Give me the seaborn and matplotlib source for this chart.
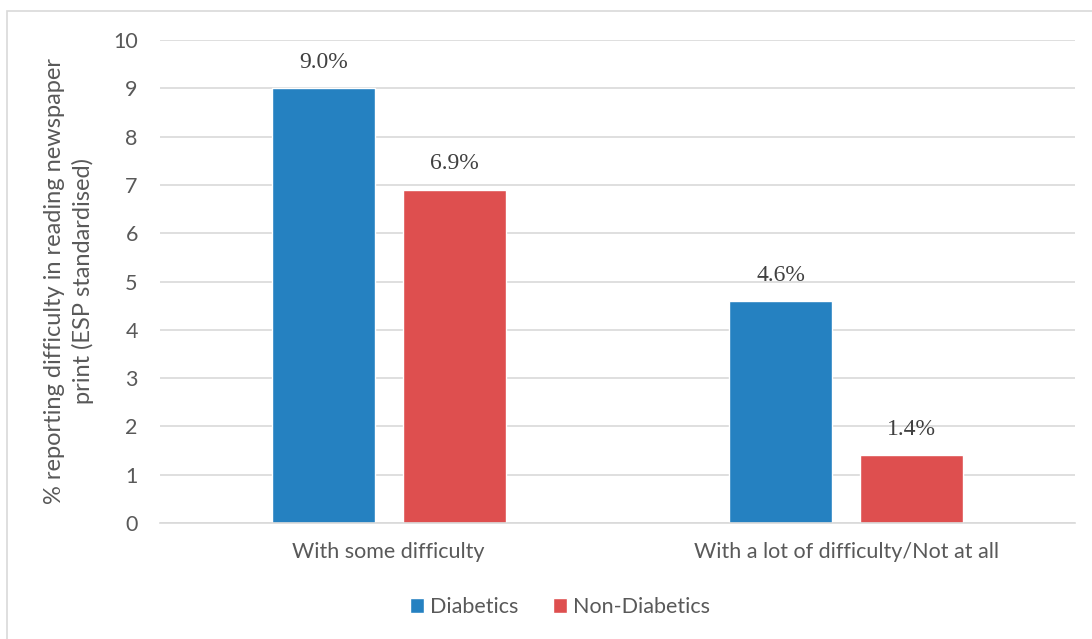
import pandas as pd
import matplotlib
matplotlib.use("Agg")
import matplotlib.pyplot as plt
import seaborn as sns
from matplotlib.patches import Rectangle, Patch

categories = ["With some difficulty", "With a lot of difficulty/Not at all"]
groups = ["Diabetics", "Non-Diabetics"]
diabetics = [9.0, 4.6]
non_diabetics = [6.9, 1.4]
colors = ["#2581C1", "#DE4F4F"]

df = pd.DataFrame({
    "category": categories * 2,
    "group": [groups[0]] * 2 + [groups[1]] * 2,
    "value": diabetics + non_diabetics,
})

sns.set_style("white")
plt.rcParams["font.family"] = ["Lato", "DejaVu Sans"]
text_col = "#595959"

fig = plt.figure(figsize=(10.92, 6.39), dpi=100)
ax = fig.add_axes([160 / 1092, 1 - 523 / 639, (1075 - 160) / 1092, (523 - 40) / 639])

sns.barplot(data=df, x="category", y="value", hue="group", order=categories,
            hue_order=groups, palette=colors, width=0.573, gap=0.214,
            saturation=1, ax=ax, legend=False)

ax.set_ylim(0, 10)
ax.set_yticks(range(0, 11))
ax.yaxis.grid(True, color="#D9D9D9", linewidth=1.2)
ax.set_axisbelow(True)
for s in ["top", "right", "left"]:
    ax.spines[s].set_visible(False)
ax.spines["bottom"].set_color("#D9D9D9")
ax.spines["bottom"].set_linewidth(1.2)
ax.tick_params(axis="both", length=0, labelsize=15.5, colors=text_col, pad=16)
ax.tick_params(axis="x", pad=14)
ax.set_xlabel("")
ax.set_ylabel("% reporting difficulty in reading newspaper\nprint (ESP standardised)",
              fontsize=17, color=text_col, labelpad=14, linespacing=1.35)

for cont in ax.containers:
    ax.bar_label(cont, labels=[f"{v:.1f}%" for v in cont.datavalues], padding=11,
                 fontsize=17, color="#404040", family="Liberation Serif")

handles = [Patch(facecolor=c, label=g) for c, g in zip(colors, groups)]
fig.legend(handles=handles, loc="center", bbox_to_anchor=(560 / 1092, 1 - 607 / 639),
           ncol=2, frameon=False, fontsize=15.5, labelcolor=text_col,
           handlelength=0.65, handleheight=0.65, handletextpad=0.3, columnspacing=1.6)

fig.patches.append(Rectangle((7 / 1092, -0.05), 1.1, 1 - 11 / 639 + 0.05,
                             transform=fig.transFigure, fill=False,
                             edgecolor="#D9D9D9", linewidth=1.2))

fig.savefig("out.png", dpi=100)
